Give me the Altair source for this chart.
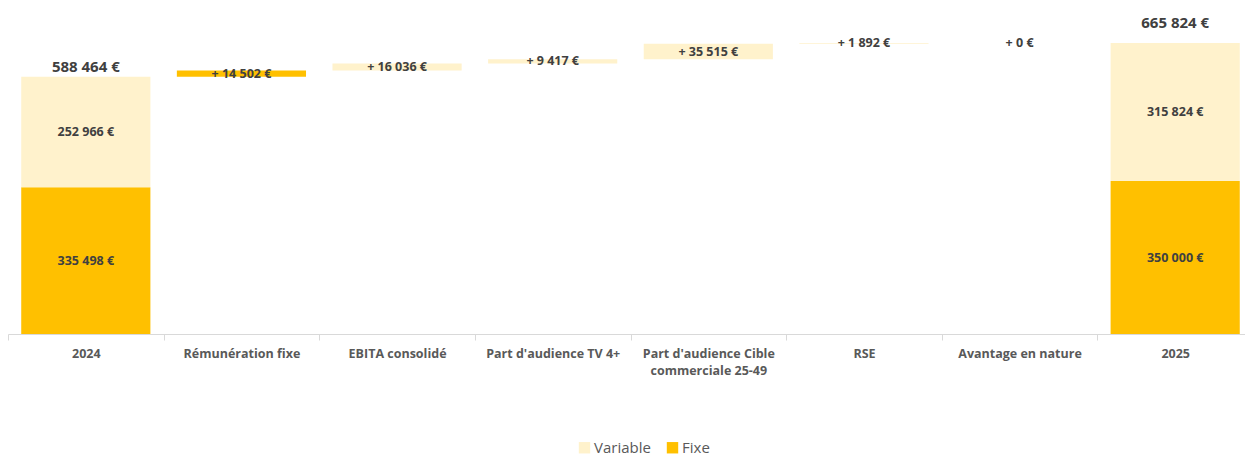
import altair as alt
import pandas as pd

categories = ["2024", "Rémunération fixe", "EBITA consolidé", "Part d'audience TV 4+",
              "Part d'audience Cible|commerciale 25-49", "RSE", "Avantage en nature", "2025"]
start_fixe = 335498
start_variable = 252966
increments = [14502, 16036, 9417, 35515, 1892, 0]
increment_types = ["Fixe", "Variable", "Variable", "Variable", "Variable", "Variable"]
end_fixe = 350000
end_variable = 315824

FONT = "Open Sans"
TXT = "#404040"


def fmt(v):
    return f"{v:,}".replace(",", " ") + " €"


rows = []
rows.append(dict(cat=categories[0], lo=0, hi=start_fixe, type="Fixe", label=fmt(start_fixe)))
rows.append(dict(cat=categories[0], lo=start_fixe, hi=start_fixe + start_variable, type="Variable",
                 label=fmt(start_variable)))
cum = start_fixe + start_variable
for c, inc, t in zip(categories[1:7], increments, increment_types):
    rows.append(dict(cat=c, lo=cum, hi=cum + inc, type=t, label="+ " + fmt(inc)))
    cum += inc
rows.append(dict(cat=categories[7], lo=0, hi=end_fixe, type="Fixe", label=fmt(end_fixe)))
rows.append(dict(cat=categories[7], lo=end_fixe, hi=end_fixe + end_variable, type="Variable",
                 label=fmt(end_variable)))
df = pd.DataFrame(rows)

totals = pd.DataFrame(dict(cat=[categories[0], categories[7]],
                           total=[start_fixe + start_variable, end_fixe + end_variable]))
totals["label"] = totals["total"].apply(fmt)

x = alt.X("cat:N", sort=categories, title=None,
          scale=alt.Scale(range=[0, 1245], paddingInner=0, paddingOuter=0),
          axis=alt.Axis(labelAngle=0, labelExpr="split(datum.label, '|')", labelFont=FONT,
                        labelFontWeight="bold", labelFontSize=12.5, labelColor="#595959",
                        labelLineHeight=17, labelPadding=7, tickBand="extent", tickSize=6,
                        tickColor="#d9d9d9", domainColor="#d9d9d9", labelLimit=200))
yscale = alt.Scale(domain=[0, 741333], nice=False, zero=True)

bars = alt.Chart(df).mark_bar(width=alt.RelativeBandSize(0.83)).encode(
    x=x,
    y=alt.Y("lo:Q", scale=yscale, axis=None),
    y2="hi:Q",
    color=alt.Color("type:N", scale=alt.Scale(domain=["Variable", "Fixe"], range=["#FFF2CC", "#FFC000"]),
                    legend=alt.Legend(title=None, orient="none", direction="horizontal", legendX=569,
                                      legendY=430, symbolType="square", symbolSize=130,
                                      symbolStrokeWidth=0, labelFont=FONT, labelFontSize=15,
                                      labelColor="#595959", columnPadding=14, labelOffset=2)),
)

seg_labels = alt.Chart(df).transform_calculate(mid="(datum.lo + datum.hi) / 2").mark_text(
    font=FONT, fontWeight="bold", fontSize=12.5, color=TXT
).encode(x=x, y=alt.Y("mid:Q", scale=yscale), text="label:N")

tot1 = alt.Chart(totals).transform_filter(alt.datum.cat == categories[0]).mark_text(
    font=FONT, fontWeight="bold", fontSize=15, color=TXT, baseline="bottom", dy=-2
).encode(x=x, y=alt.Y("total:Q", scale=yscale), text="label:N")
tot2 = alt.Chart(totals).transform_filter(alt.datum.cat == categories[7]).mark_text(
    font=FONT, fontWeight="bold", fontSize=15, color=TXT, baseline="bottom", dy=-12
).encode(x=x, y=alt.Y("total:Q", scale=yscale), text="label:N")

chart = alt.layer(bars, seg_labels, tot1, tot2).properties(
    width=1237, height=324,
    autosize=alt.AutoSizeParams(type="none"),
    padding={"left": 8, "top": 10, "right": 0, "bottom": 122},
).configure_view(stroke=None)

chart.save("out.html", embed_options={"renderer": "svg", "actions": False})
